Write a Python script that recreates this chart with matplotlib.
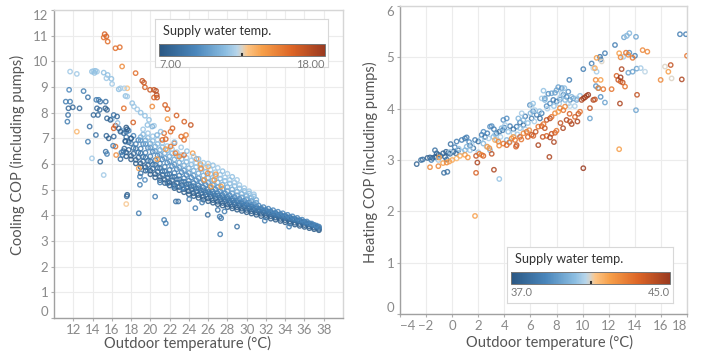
import matplotlib.pyplot as plt
import numpy as np
from matplotlib.colors import LinearSegmentedColormap, Normalize
from matplotlib.cm import ScalarMappable

plt.rcParams['font.family'] = ['Lato', 'DejaVu Sans']

# ---- cooling: dense band (bottom -> top) ----
band_x = [17.5, 18.0, 18.5, 19.0, 19.5, 20.0, 20.5, 21.0, 21.5, 22.0, 22.5, 23.0, 23.5, 24.0,
          24.5, 25.0, 25.5, 26.0, 26.5, 27.0, 27.5, 28.0, 28.5, 29.0, 29.5, 30.0, 30.5, 31.0,
          31.5, 32.0, 32.5, 33.0, 33.5, 34.0, 34.5, 35.0, 35.5, 36.0, 36.5, 37.0, 37.5]
band_xh = [17.75, 18.25, 18.75, 19.25, 19.75, 20.25, 20.75, 21.25, 21.75, 22.25, 22.75, 23.25,
           23.75, 24.25, 24.75, 25.25, 25.75, 26.25, 26.75, 27.25, 27.75, 28.25, 28.75, 29.25,
           29.75, 30.25, 30.75, 31.25, 31.75, 32.25, 32.75, 33.25, 33.75, 34.25, 34.75, 35.25,
           35.75, 36.25, 36.75, 37.25]
light_x = [19.0, 19.5, 20.0, 20.5, 21.0, 21.5, 22.0, 22.5, 23.0, 23.5, 24.0, 24.5, 25.0,
           25.5, 26.0, 26.5, 27.0, 27.5, 28.0, 28.5, 29.0, 29.5, 30.0, 30.5, 31.0]
light_xh = [19.25, 19.75, 20.25, 20.75, 21.25, 21.75, 22.25, 22.75, 23.25, 23.75, 24.25, 24.75,
            25.25, 25.75, 26.25, 26.75, 27.25, 27.75, 28.25, 28.75, 29.25, 29.75, 30.25, 30.75]

cop_l1 = [6.30, 6.18, 6.02, 5.88, 5.74, 5.60, 5.48, 5.37, 5.26, 5.16, 5.06, 4.98, 4.90, 4.82,
          4.75, 4.68, 4.61, 4.55, 4.49, 4.43, 4.38, 4.32, 4.27, 4.22, 4.17, 4.12, 4.07, 4.02,
          3.97, 3.92, 3.87, 3.83, 3.78, 3.73, 3.68, 3.64, 3.59, 3.55, 3.50, 3.46, 3.42]
cop_l1a = [6.45, 6.32, 6.16, 6.02, 5.88, 5.74, 5.61, 5.50, 5.39, 5.28, 5.18, 5.10, 5.02, 4.94,
           4.86, 4.79, 4.72, 4.66, 4.59, 4.53, 4.48, 4.42, 4.36, 4.31, 4.26, 4.21, 4.16, 4.11,
           4.06, 4.01, 3.96, 3.91, 3.86, 3.81, 3.76, 3.71, 3.66, 3.62, 3.57, 3.52, 3.47]
cop_l2 = [6.55, 6.40, 6.25, 6.10, 5.96, 5.82, 5.70, 5.58, 5.47, 5.37, 5.27, 5.18, 5.10, 5.02,
          4.94, 4.87, 4.80, 4.73, 4.66, 4.60, 4.54, 4.48, 4.43, 4.37, 4.32, 4.27, 4.21, 4.16,
          4.11, 4.06, 4.01, 3.96, 3.91, 3.86, 3.81, 3.76, 3.71, 3.66, 3.60, 3.54]
cop_l2a = [6.85, 6.62, 6.45, 6.28, 6.13, 5.98, 5.85, 5.72, 5.60, 5.50, 5.40, 5.30, 5.21, 5.13,
           5.05, 4.97, 4.90, 4.83, 4.76, 4.69, 4.63, 4.57, 4.51, 4.45, 4.40, 4.34, 4.28, 4.23,
           4.18, 4.12, 4.07, 4.02, 3.97, 3.92, 3.86, 3.81, 3.76, 3.70, 3.64, 3.57]
cop_l3 = [7.05, 6.80, 6.60, 6.42, 6.25, 6.10, 5.96, 5.83, 5.71, 5.60, 5.50, 5.40, 5.31, 5.22,
          5.14, 5.06, 4.98, 4.91, 4.84, 4.77, 4.71, 4.64, 4.58, 4.52, 4.46, 4.40, 4.34, 4.28,
          4.23, 4.17, 4.12, 4.06, 4.01, 3.95, 3.90, 3.84, 3.79, 3.73, 3.67, 3.60, 3.52]
cop_l3a = [7.25, 7.00, 6.78, 6.60, 6.44, 6.30, 6.15, 6.02, 5.89, 5.77, 5.65, 5.55, 5.45, 5.35,
           5.26, 5.17, 5.09, 5.01, 4.93, 4.86, 4.79, 4.72, 4.65, 4.59, 4.52, 4.46, 4.40, 4.34,
           4.28, 4.22, 4.16, 4.10, 4.05, 3.99, 3.93, 3.87, 3.81, 3.75, 3.69, 3.63, 3.56]
cop_l4 = [7.30, 7.10, 6.93, 6.78, 6.63, 6.48, 6.33, 6.18, 6.05, 5.92, 5.80, 5.68, 5.57, 5.47,
          5.37, 5.28, 5.19, 5.10, 5.02, 4.94, 4.86, 4.78, 4.71, 4.64, 4.57, 4.50, 4.44, 4.38,
          4.32, 4.26, 4.20, 4.14, 4.08, 4.02, 3.96, 3.90, 3.83, 3.76, 3.68, 3.60]
cop_l4a = [6.92, 6.78, 6.64, 6.50, 6.36, 6.23, 6.10, 5.98, 5.86, 5.75, 5.65, 5.55, 5.45,
           5.36, 5.27, 5.18, 5.10, 5.02, 4.94, 4.86, 4.78, 4.70, 4.63, 4.56, 4.49]
cop_l5 = [7.05, 6.92, 6.80, 6.68, 6.55, 6.42, 6.30, 6.18, 6.06, 5.95, 5.84, 5.74, 5.64,
          5.55, 5.46, 5.37, 5.28, 5.19, 5.10, 5.01, 4.92, 4.84, 4.76, 4.68, 4.60]
cop_l5a = [7.15, 7.02, 6.90, 6.78, 6.65, 6.53, 6.41, 6.30, 6.19, 6.08, 5.98, 5.88,
           5.79, 5.70, 5.61, 5.52, 5.43, 5.34, 5.24, 5.14, 5.05, 4.95, 4.85, 4.74]
cop_l6 = [7.35, 7.20, 7.08, 6.95, 6.82, 6.70, 6.58, 6.46, 6.35, 6.24, 6.14, 6.04,
          5.95, 5.86, 5.77, 5.68, 5.58, 5.48, 5.38, 5.28, 5.18, 5.06, 4.94, 4.82]
layer_supply = [7.3, 7.6, 8.0, 8.4, 8.7, 9.0, 9.4, 10.0, 10.7, 11.2, 11.7]

# ---- cooling: scattered points ----
cool_x = [15.26, 15.44, 15.16, 15.57, 16.38, 16.83, 17.07, 18.47, 19.16, 19.34, 19.44, 19.97,
          20.38, 20.66, 20.59, 20.70, 20.38, 20.20, 21.53, 21.78, 22.72, 21.78, 23.52, 24.20,
          22.30, 22.10, 17.25, 18.22, 16.38, 16.20, 16.38, 16.45, 21.43, 21.60, 21.25, 22.10,
          22.50, 23.20, 23.50, 23.70, 22.60, 23.00, 23.50, 24.40, 20.70, 21.60, 25.26, 25.96,
          26.65, 25.60, 26.30, 27.35, 18.80, 12.37, 17.50, 17.60, 24.80, 25.20, 26.00, 26.80,
          11.67, 12.37, 13.94, 14.10, 14.30, 14.46, 14.20, 15.16, 15.57, 15.44, 15.96, 16.03,
          16.72, 16.90, 17.42, 17.60, 17.30, 18.12, 18.30, 19.00, 19.44, 18.64, 19.86, 20.38,
          13.94, 15.16, 19.70, 20.20, 21.07, 20.70, 16.00, 16.60, 17.00, 25.50, 26.00, 26.50,
          27.00, 27.50, 28.00, 28.50, 29.00, 24.50, 25.00, 23.80, 23.20, 22.50,
          11.22, 11.67, 11.57, 11.50, 11.95, 11.46, 11.39, 12.65, 13.07, 13.52, 14.39, 14.63,
          14.80, 15.37, 14.46, 14.74, 14.10, 14.56, 15.33, 15.50, 13.70, 13.52, 14.35, 14.80,
          15.37, 15.50, 15.44, 15.68, 16.20, 16.13, 15.50, 15.85, 16.20, 16.55, 16.72, 16.90,
          17.25, 17.42, 16.90, 17.60, 17.55, 19.00, 18.92, 18.80, 19.69, 20.50, 21.43, 21.60,
          22.65, 22.90, 24.04, 24.67, 25.37, 25.96, 27.00, 27.70, 27.20, 27.35, 27.25, 29.00,
          31.88, 34.40, 21.00, 21.78, 22.47, 23.35, 19.44, 18.92, 17.50, 17.60, 17.20, 17.10,
          17.30, 17.00, 17.40, 18.00]
cool_y = [11.06, 10.97, 10.93, 10.77, 10.51, 10.55, 9.80, 9.54, 9.24, 9.17, 8.99, 8.89,
          8.89, 8.69, 8.85, 8.59, 8.59, 8.24, 8.30, 8.14, 7.89, 7.75, 7.65, 7.52,
          7.39, 7.26, 8.17, 7.62, 7.49, 7.39, 6.68, 6.35, 7.20, 6.97, 6.94, 6.68,
          6.81, 7.07, 6.94, 7.13, 6.42, 6.29, 6.35, 6.42, 6.19, 6.58, 5.83, 5.64,
          5.38, 5.38, 5.12, 5.12, 5.83, 7.26, 4.44, 8.95, 6.20, 6.00, 5.90, 5.60,
          9.60, 9.51, 9.60, 9.62, 9.63, 9.60, 9.55, 9.56, 9.47, 9.34, 9.32, 9.12,
          8.91, 8.95, 8.65, 8.63, 8.95, 8.37, 8.24, 8.00, 7.88, 8.13, 7.72, 7.49,
          6.22, 5.57, 7.52, 7.46, 7.26, 7.13, 7.75, 7.60, 7.30, 6.05, 6.02, 5.95,
          5.85, 5.72, 5.62, 5.50, 5.38, 6.30, 6.20, 6.50, 6.65, 6.85,
          8.43, 8.43, 8.89, 8.17, 8.21, 7.91, 7.65, 8.17, 8.84, 8.60, 8.50, 8.50,
          8.43, 8.43, 8.17, 8.11, 7.91, 7.91, 8.17, 8.11, 7.46, 6.87, 7.13, 6.09,
          6.48, 6.39, 7.10, 7.00, 7.07, 6.71, 7.78, 7.72, 7.91, 7.85, 7.39, 7.26,
          7.20, 6.87, 6.19, 4.80, 4.74, 5.64, 5.19, 4.08, 5.77, 4.73, 3.82, 3.69,
          4.54, 4.54, 4.63, 4.28, 4.50, 4.02, 4.21, 4.15, 3.95, 3.89, 3.26, 3.56,
          3.79, 3.56, 5.28, 5.25, 5.12, 5.06, 5.38, 5.51, 7.42, 7.35, 6.50, 6.35,
          6.60, 6.45, 6.90, 7.00]
cool_s = [16.0, 16.0, 15.5, 15.5, 15.5, 15.5, 14.5, 15.5, 16.5, 16.5, 16.0, 16.5,
          16.5, 17.0, 17.0, 16.5, 16.0, 14.5, 16.0, 16.0, 16.0, 14.2, 16.0, 16.5,
          16.0, 15.5, 15.5, 16.0, 17.0, 16.0, 15.5, 14.5, 15.5, 16.0, 15.5, 15.0,
          15.5, 15.5, 15.5, 15.0, 15.0, 14.5, 15.5, 14.0, 14.0, 14.0, 14.5, 14.5,
          14.0, 14.0, 13.8, 13.8, 14.0, 13.2, 12.8, 13.0, 14.5, 14.0, 13.5, 14.0,
          11.8, 11.8, 11.5, 11.8, 11.5, 11.8, 11.5, 11.5, 11.5, 11.8, 11.5, 11.8,
          11.5, 11.8, 11.5, 11.8, 12.0, 11.5, 11.8, 11.5, 11.5, 11.8, 11.5, 11.8,
          11.8, 11.8, 11.5, 11.0, 11.5, 11.0, 11.2, 11.5, 11.0, 11.8, 11.8, 11.5,
          11.8, 11.5, 11.8, 11.5, 11.8, 11.8, 11.5, 11.5, 11.8, 11.5,
          9.0, 9.0, 9.5, 8.0, 8.0, 8.5, 9.0, 8.0, 9.0, 8.5, 9.0, 9.0,
          8.5, 8.5, 8.0, 8.0, 8.0, 8.0, 7.5, 7.5, 8.5, 9.0, 8.5, 8.0,
          8.5, 9.0, 8.0, 7.5, 8.0, 9.0, 8.0, 7.5, 8.5, 8.0, 8.0, 7.5,
          8.0, 8.5, 8.0, 7.5, 8.0, 8.5, 9.0, 9.0, 9.0, 9.0, 9.0, 9.0,
          8.5, 8.5, 9.0, 9.0, 9.0, 8.0, 8.5, 9.0, 9.0, 8.5, 9.0, 8.5,
          9.0, 9.0, 9.0, 8.5, 9.0, 9.5, 9.5, 9.0, 7.2, 7.5, 8.0, 8.5,
          8.0, 9.0, 7.5, 7.5]

# ---- heating ----
heat_x = [-2.72, -2.39, -2.26, -1.90, -1.70, -1.50, -1.32, -1.24, -1.06, -1.19, -1.32, -0.70,
          -0.47, -0.30, -0.17, -0.55, -0.42, -0.12, -0.63, -0.37, 0.09, 0.29, 0.47, 0.34,
          0.73, 0.98, 1.11, 1.37, 1.62, 1.75, 2.00, 2.26, 2.52, 2.69, 2.90, 3.03,
          3.41, 3.61, 3.87, 3.92, 4.18, 4.43, 4.69, 4.94, 5.20, 5.46, 5.96, 6.09,
          6.48, 6.73, 6.86, 7.24, 7.50, 7.37, 7.62, 7.88, 8.00, 8.13, 7.75, 8.00,
          8.26, 8.52, 8.77, 9.03, 8.98, 8.90, 9.29, 9.54, 10.05, 10.69, 11.33, 11.38,
          11.71, 12.48, 13.17, 13.38, 14.09, 13.58, 14.01, 14.14, 13.83, 13.50, 14.09, 10.56,
          11.02, 11.20, 11.71, 11.38, 17.46, 17.92,
          -1.60, -0.90, 0.20, 1.30, 2.40, 3.20, 4.00, 5.60, 6.20, 7.10, 8.40,
          1.11, 1.37, 2.39, 2.64, 3.15, 3.41, 3.79, 4.05, 5.07, 5.33, 6.00, 6.35,
          6.09, 5.46, 6.86, 7.10, 8.39, 8.65, 8.90, 9.16, 9.03, 9.54, 4.18, 4.43,
          2.90, -0.17, 0.73, 0.98, -1.06, 11.07, 10.82, 13.38, 13.58, 13.12, 14.45, 14.78,
          16.31, 16.82, 11.46, 3.61, 7.00, 6.20, 5.00, 2.00,
          0.50, 1.50, 2.20, 2.80, 3.30, 3.70, 4.30, 4.70, 5.20, 5.60, 5.80, 6.30,
          6.70, 7.30, 7.80, 8.20, 8.60, 9.40, 9.80, 8.30,
          -1.70, -1.06, -0.70, -0.42, -0.22, 0.34, 0.60, 0.98, 1.83, 1.93, 1.83, 1.75,
          2.08, 2.26, 2.39, 3.03, 3.20, 2.85, 2.69, 3.28, 3.54, 3.92, 4.18, 4.38,
          4.56, 4.69, 4.82, 4.94, 4.89, 5.20, 5.46, 5.71, 5.91, 6.09, 6.22, 6.60,
          6.86, 7.10, 6.60, 7.45, 6.94, 7.24, 7.50, 7.62, 7.88, 8.00, 7.24, 7.50,
          7.62, 7.88, 8.13, 8.26, 8.52, 8.65, 8.77, 9.03, 9.16, 9.41, 9.67, 9.80,
          9.92, 10.05, 10.18, 10.31, 10.43, 10.56, 10.82, 10.94, 11.00, 11.38, 11.58, 11.20,
          10.94, 12.22, 12.60, 12.73, 12.91, 13.07, 12.99, 12.91, 13.25, 12.86, 12.80, 14.17,
          12.80, 12.91, 13.32, 13.50, 13.83, 14.60, 14.96, 15.98, 16.57, 16.75, 17.60, 18.00,
          10.05, 11.07, -1.00,
          0.00, 1.20, 3.60, 5.30, 5.80, 6.40, 7.00, 8.30, 9.00, 9.60, 7.80, 8.50]
heat_y = [2.92, 3.00, 3.01, 3.04, 3.05, 3.04, 3.06, 3.05, 3.10, 3.13, 3.19, 3.13,
          3.16, 3.14, 3.12, 3.06, 3.01, 3.31, 2.75, 2.77, 3.16, 3.13, 3.19, 3.36,
          3.39, 3.42, 3.44, 3.28, 3.23, 3.39, 3.36, 3.49, 3.45, 3.52, 3.65, 3.66,
          3.52, 3.55, 3.58, 3.78, 3.81, 3.66, 3.60, 3.65, 3.73, 3.68, 4.07, 3.81,
          3.88, 3.81, 3.91, 4.05, 4.10, 4.29, 4.30, 4.31, 4.36, 4.42, 4.17, 4.14,
          4.18, 4.27, 4.23, 4.17, 4.56, 4.33, 4.20, 4.17, 4.77, 4.88, 5.01, 4.96,
          5.08, 5.24, 5.39, 5.42, 5.40, 5.09, 5.03, 4.78, 4.72, 4.70, 3.97, 3.81,
          4.44, 4.40, 4.12, 4.23, 5.45, 5.45,
          3.00, 3.08, 3.25, 3.35, 3.55, 3.60, 3.63, 3.85, 3.95, 4.20, 4.40,
          3.26, 3.19, 3.32, 3.26, 3.45, 3.39, 3.62, 3.68, 3.81, 3.91, 3.91, 3.97,
          4.05, 3.78, 4.20, 4.17, 4.30, 4.17, 4.10, 4.23, 4.05, 4.20, 3.39, 3.36,
          3.19, 3.16, 3.16, 3.19, 3.00, 4.72, 4.79, 5.42, 5.47, 5.01, 4.79, 4.72,
          4.82, 4.59, 4.92, 2.63, 4.35, 4.10, 3.50, 3.15,
          3.22, 3.30, 3.40, 3.42, 3.50, 3.45, 3.55, 3.52, 3.62, 3.60, 3.72, 3.75,
          3.95, 4.00, 4.05, 4.10, 4.40, 4.05, 4.25, 4.22,
          2.86, 2.88, 2.94, 2.95, 2.97, 3.03, 3.08, 3.10, 3.08, 2.95, 2.75, 1.91,
          3.12, 3.10, 3.08, 3.12, 2.81, 3.23, 3.26, 3.39, 3.36, 3.32, 3.29, 3.34,
          3.42, 3.45, 3.39, 3.29, 3.26, 3.45, 3.52, 3.55, 3.58, 3.49, 3.47, 3.65,
          3.66, 3.62, 3.29, 3.06, 3.45, 3.47, 3.44, 3.51, 3.53, 3.57, 3.78, 3.81,
          3.84, 3.91, 3.94, 4.01, 3.97, 4.04, 3.78, 3.75, 3.70, 3.84, 3.90, 3.94,
          4.17, 4.20, 4.22, 4.25, 4.27, 4.01, 4.17, 4.18, 4.56, 4.56, 4.38, 4.40,
          4.79, 4.38, 4.64, 4.56, 4.53, 4.51, 4.77, 4.61, 4.43, 4.10, 3.21, 4.27,
          5.08, 5.00, 5.09, 5.05, 4.99, 5.14, 5.11, 4.56, 4.72, 4.85, 4.57, 5.03,
          2.84, 4.99, 3.05,
          3.00, 3.05, 3.28, 3.40, 3.45, 3.55, 3.70, 3.72, 3.90, 3.75, 3.35, 3.62]
heat_s = [37.5, 38.0, 38.0, 37.5, 37.5, 37.5, 37.5, 37.5, 37.5, 37.5, 38.0, 37.5,
          37.5, 37.5, 38.0, 37.5, 38.0, 38.0, 38.0, 38.0, 37.5, 38.0, 38.0, 38.5,
          38.5, 38.5, 38.5, 38.0, 38.0, 38.5, 38.0, 38.5, 38.0, 38.5, 39.0, 39.0,
          38.0, 38.0, 38.5, 39.0, 39.0, 38.5, 38.0, 38.5, 38.5, 38.0, 39.0, 38.5,
          38.5, 38.0, 38.5, 39.0, 39.0, 39.0, 39.5, 39.5, 39.5, 39.5, 38.5, 38.5,
          39.0, 39.0, 39.0, 38.5, 38.5, 39.0, 39.5, 39.5, 38.5, 38.5, 38.0, 38.5,
          38.5, 38.5, 39.5, 39.5, 39.5, 39.0, 38.5, 39.5, 39.5, 39.5, 39.5, 39.5,
          39.0, 39.0, 39.5, 39.0, 38.5, 38.5,
          38.5, 38.0, 38.5, 38.8, 39.0, 38.5, 38.8, 38.5, 39.0, 39.2, 39.0,
          40.0, 40.5, 40.0, 40.5, 40.0, 40.5, 40.0, 40.5, 40.0, 40.5, 40.0, 40.5,
          40.8, 40.0, 40.5, 40.0, 40.5, 40.0, 40.5, 40.0, 40.8, 40.5, 40.0, 40.5,
          40.0, 40.5, 40.5, 40.0, 40.5, 40.5, 40.8, 40.5, 40.0, 40.5, 40.5, 40.8,
          41.0, 41.0, 41.0, 40.3, 40.3, 40.3, 40.5, 40.5,
          40.3, 40.6, 40.3, 40.6, 40.3, 40.6, 40.3, 40.6, 40.3, 40.6, 40.3, 40.6,
          40.3, 40.6, 40.3, 40.6, 40.2, 40.6, 40.3, 40.5,
          42.5, 42.5, 42.0, 42.5, 42.0, 41.5, 41.8, 42.0, 44.0, 44.5, 43.5, 42.0,
          43.0, 42.5, 43.5, 44.0, 44.5, 42.5, 42.0, 41.8, 42.5, 43.0, 43.5, 43.0,
          42.5, 42.0, 43.0, 44.0, 43.5, 43.5, 42.5, 43.0, 42.5, 44.0, 43.5, 43.0,
          43.5, 44.0, 44.5, 44.5, 44.0, 43.5, 44.5, 44.0, 43.5, 43.0, 44.0, 44.5,
          43.0, 42.5, 42.0, 42.5, 43.0, 42.5, 44.5, 44.0, 44.5, 43.5, 44.0, 43.0,
          44.5, 44.5, 45.0, 44.5, 45.0, 44.0, 44.5, 44.0, 42.5, 42.0, 43.0, 42.5,
          41.8, 43.0, 43.5, 44.0, 43.5, 44.0, 44.5, 45.0, 43.0, 44.5, 42.0, 44.0,
          42.0, 42.5, 43.0, 42.5, 43.0, 42.5, 42.5, 42.5, 42.0, 44.0, 44.5, 43.0,
          45.0, 42.0, 42.0,
          41.8, 42.2, 42.5, 43.0, 43.5, 44.0, 43.0, 44.0, 43.5, 44.5, 44.5, 44.5]

cmap = LinearSegmentedColormap.from_list('orange_blue', [
    (0.00, '#2a5783'), (0.22, '#4a86bb'), (0.40, '#8bbde1'), (0.47, '#b7d5ea'),
    (0.50, '#d9d3c7'), (0.53, '#fcc587'), (0.62, '#f7a04a'), (0.80, '#dd6526'),
    (1.00, '#9a3a20')])

W, H = 702, 354
fig = plt.figure(figsize=(W / 100, H / 100), dpi=100)


def px_axes(x0, y0, x1, y1):
    return fig.add_axes([x0 / W, 1 - y1 / H, (x1 - x0) / W, (y1 - y0) / H])


def style(ax):
    ax.grid(True, color='#ececec', lw=0.8)
    ax.set_axisbelow(True)
    for side in ['top', 'right']:
        ax.spines[side].set_color('#d6d6d6')
    for side in ['left', 'bottom']:
        ax.spines[side].set_color('#a0a0a0')
    for sp in ax.spines.values():
        sp.set_linewidth(1.0)
    ax.tick_params(colors='#b0b0b0', labelcolor='#8a8a8a', labelsize=9.5, length=2.5,
                   width=0.8, pad=1.5)


def legend(x0, y0, x1, y1, lo, hi, fmt):
    box = px_axes(x0, y0, x1, y1)
    box.set_xticks([])
    box.set_yticks([])
    for sp in box.spines.values():
        sp.set_color('#d8d8d8')
    fig.text((x0 + 8) / W, 1 - (y0 + 12) / H, 'Supply water temp.', fontsize=9.2,
             color='#333333', va='center')
    cax = px_axes(x0 + 4, y0 + 25, x1 - 3, y0 + 37)
    cb = fig.colorbar(ScalarMappable(Normalize(lo, hi), cmap), cax=cax, orientation='horizontal')
    cax.set_xticks([])
    cb.outline.set_edgecolor('#777777')
    cb.outline.set_linewidth(0.7)
    cax.plot([(lo + hi) / 2] * 2, [0, 0.18], color='#333333', lw=1.5)
    fig.text((x0 + 4) / W, 1 - (y0 + 45) / H, fmt % lo, fontsize=8, color='#7a7a7a', va='center')
    fig.text((x1 - 3) / W, 1 - (y0 + 45) / H, fmt % hi, fontsize=8, color='#7a7a7a',
             va='center', ha='right')


mk = dict(s=10, facecolors='none', linewidths=1.0, zorder=3)

# left: cooling
ax1 = px_axes(54, 10, 343, 318)
style(ax1)
norm1 = Normalize(7, 18)
layers = [(band_x, cop_l1), (band_x, cop_l1a), (band_xh, cop_l2), (band_xh, cop_l2a),
          (band_x, cop_l3), (band_x, cop_l3a), (band_xh, cop_l4), (light_x, cop_l4a),
          (light_x, cop_l5), (light_xh, cop_l5a), (light_xh, cop_l6)]
for (lx, ly), sv in zip(layers, layer_supply):
    ax1.scatter(lx, ly, edgecolors=cmap(norm1(sv)), alpha=0.85, **mk)
ax1.scatter(cool_x, cool_y, edgecolors=cmap(norm1(np.array(cool_s))), alpha=0.85, **mk)
ax1.set_xlim(10, 40)
ax1.set_ylim(0, 12)
ax1.set_xticks(range(12, 39, 2))
ax1.set_yticks(range(0, 13))
ylab1 = ax1.get_yticklabels()
ylab1[0].set_va('bottom')
ylab1[-1].set_va('top')
ax1.set_xlabel('Outdoor temperature (°C)', fontsize=10.5, color='#555555', va='center')
ax1.set_ylabel('Cooling COP (including pumps)', fontsize=10.5, color='#555555', va='center')
ax1.xaxis.set_label_coords((187 - 54) / 289, -(343 - 318) / 308)
ax1.yaxis.set_label_coords(-(54 - 17) / 289, (318 - 155) / 308)

# right: heating
ax2 = px_axes(400, 6, 687, 314)
style(ax2)
norm2 = Normalize(37, 45)
ax2.scatter(heat_x, heat_y, edgecolors=cmap(norm2(np.array(heat_s))), alpha=0.85, **mk)
ax2.set_xlim(-4, 18)
ax2.set_ylim(0, 6)
ax2.set_xticks(range(-4, 19, 2))
xlab2 = ax2.get_xticklabels()
xlab2[0].set_ha('left')
xlab2[-1].set_ha('right')
ax2.set_yticks(range(0, 7))
ylab2 = ax2.get_yticklabels()
ylab2[0].set_va('bottom')
ylab2[-1].set_va('top')
ax2.set_xlabel('Outdoor temperature (°C)', fontsize=10.5, color='#555555', va='center')
ax2.set_ylabel('Heating COP (including pumps)', fontsize=10.5, color='#555555', va='center')
ax2.xaxis.set_label_coords((550 - 400) / 287, -(342 - 314) / 308)
ax2.yaxis.set_label_coords(-(400 - 370) / 287, (314 - 162) / 308)

legend(155, 19, 328, 67, 7, 18, '%.2f')
legend(507, 247, 673, 303, 37, 45, '%.1f')

fig.savefig('out.png', dpi=100)
